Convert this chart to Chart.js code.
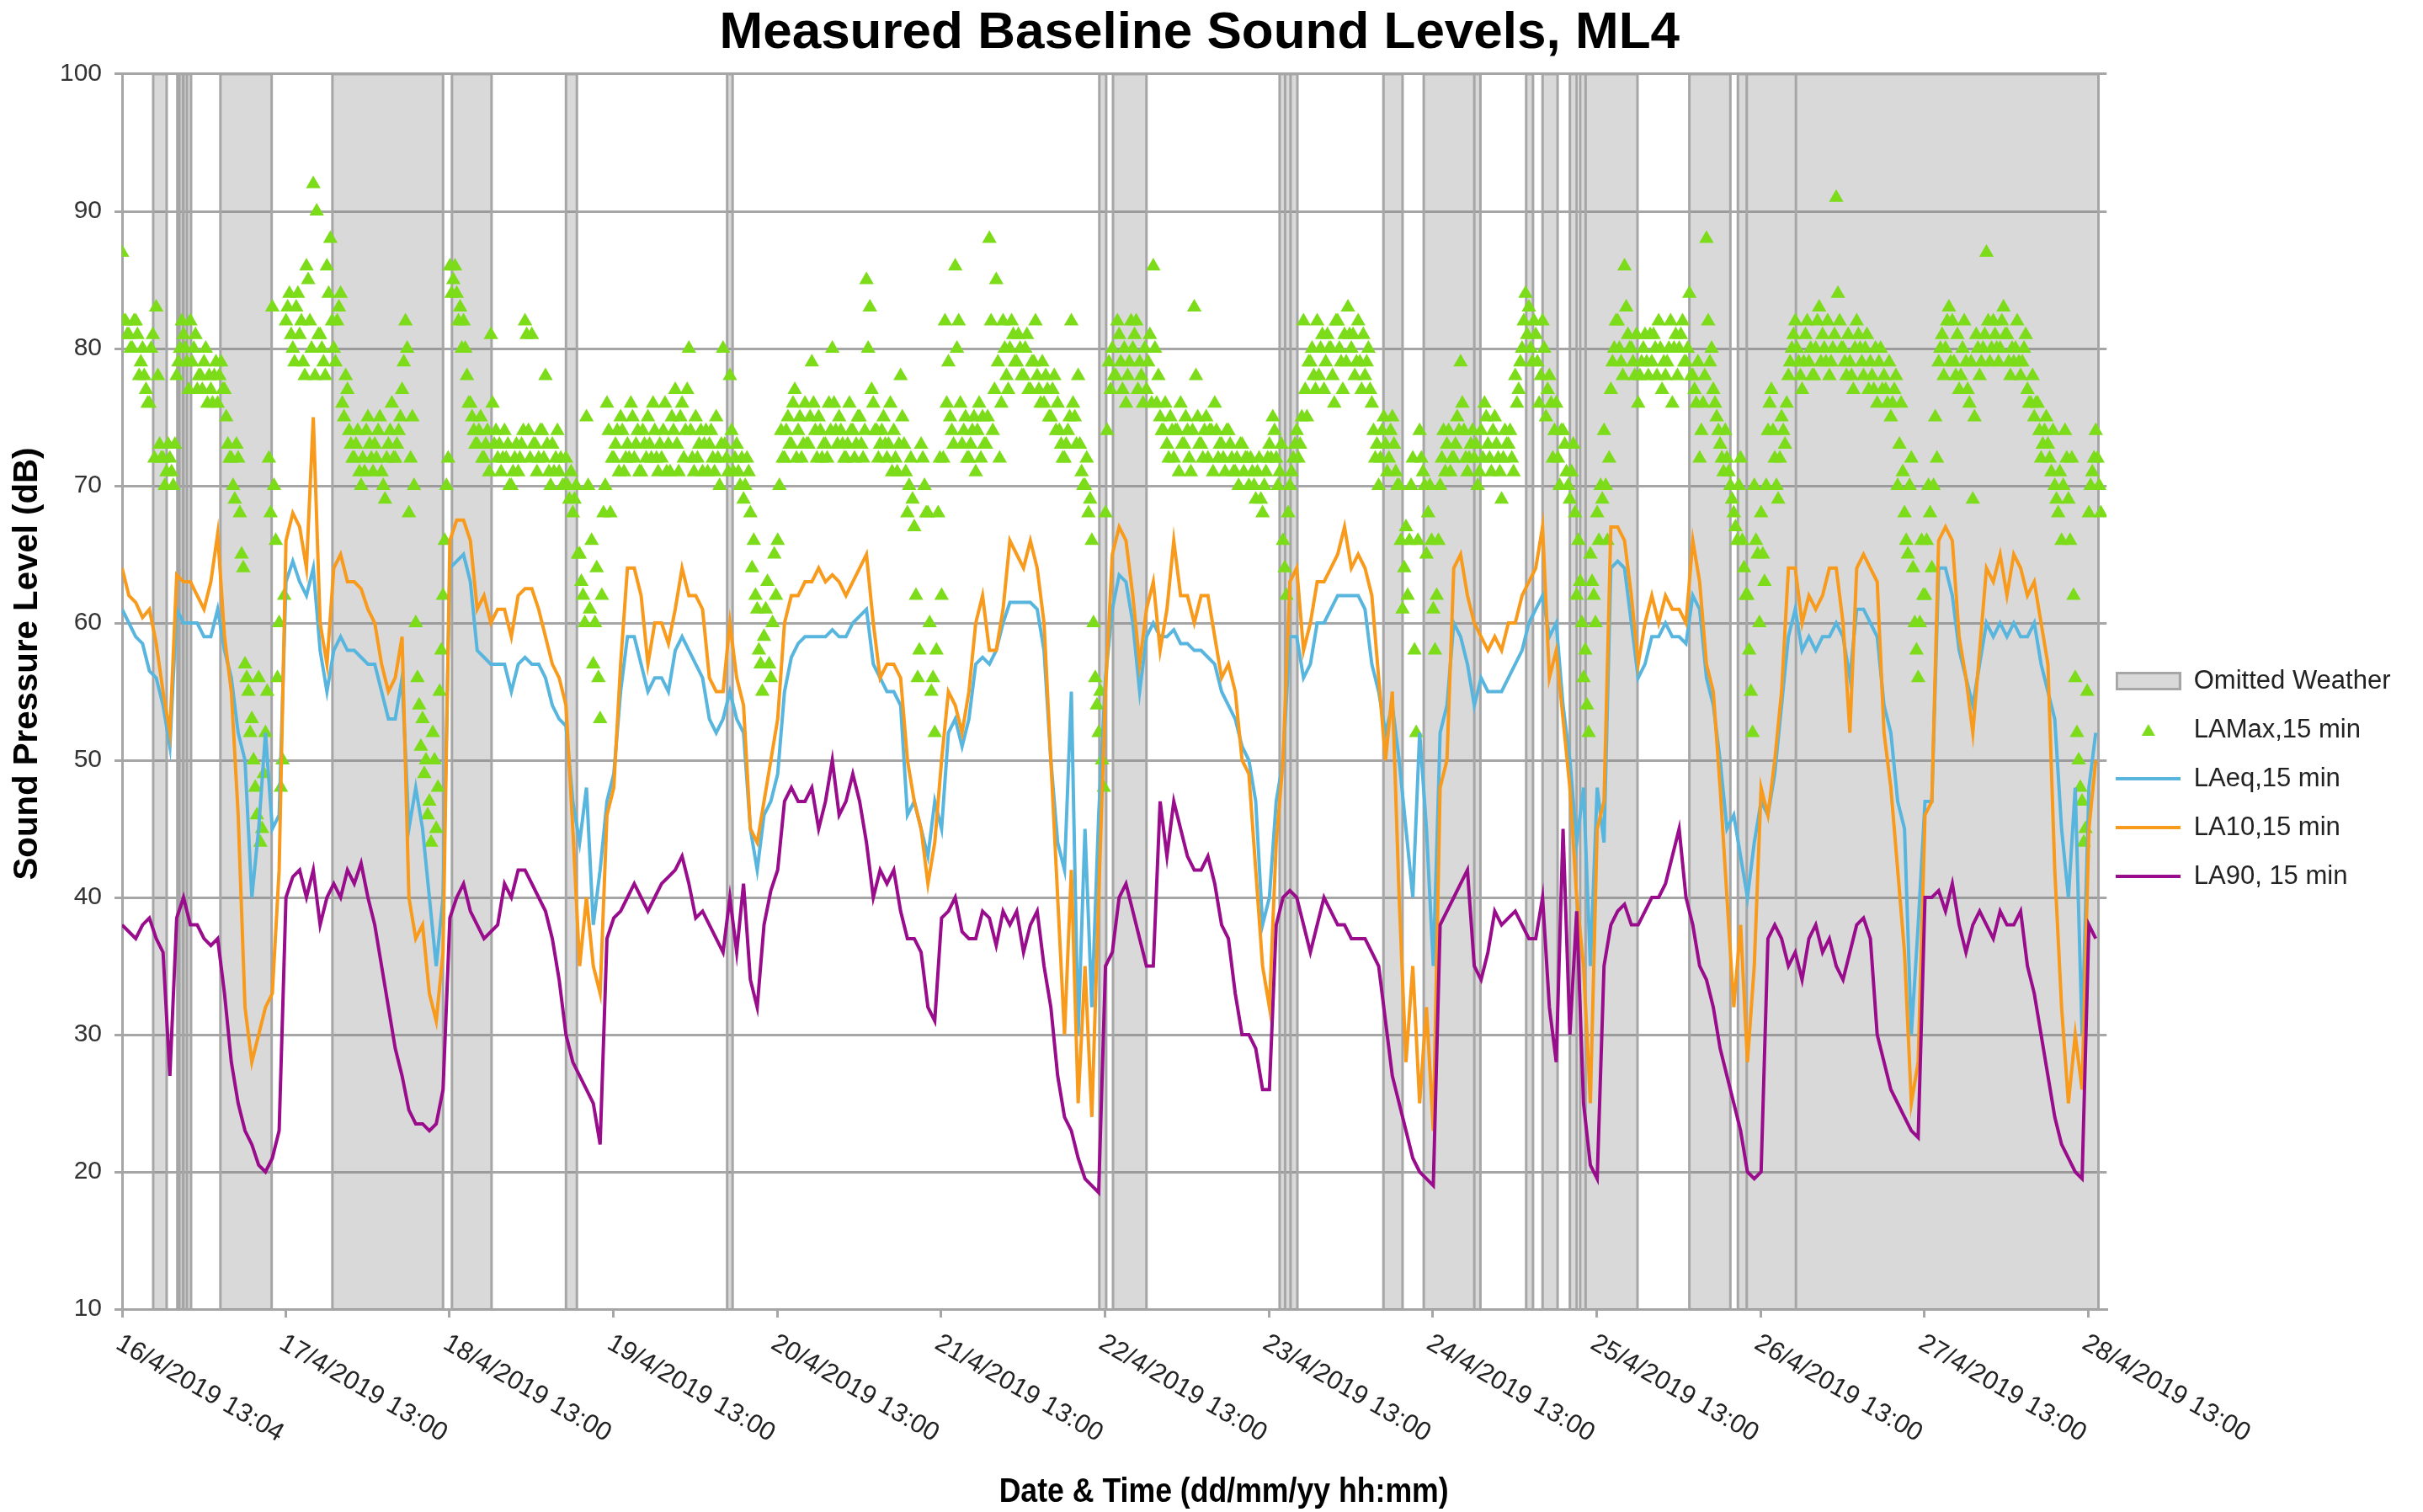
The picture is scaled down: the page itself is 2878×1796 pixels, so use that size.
<!DOCTYPE html>
<html><head><meta charset="utf-8">
<script src="https://cdn.jsdelivr.net/npm/chart.js@4/dist/chart.umd.min.js"></script>
<style>html,body{margin:0;padding:0;background:#fff;overflow:hidden}canvas{display:block}</style>
</head><body>
<canvas id="c" width="2878" height="1796"></canvas>
<script>
// ---- tick labels (x axis, hours after 16/4/2019 13:04) ----
const tickLabels = ['16/4/2019 13:04','17/4/2019 13:00','18/4/2019 13:00','19/4/2019 13:00','20/4/2019 13:00','21/4/2019 13:00','22/4/2019 13:00','23/4/2019 13:00','24/4/2019 13:00','25/4/2019 13:00','26/4/2019 13:00','27/4/2019 13:00','28/4/2019 13:00'];
const tickHours = [0,23.93,47.93,71.93,95.93,119.93,143.93,167.93,191.93,215.93,239.93,263.93,287.93];

// ---- omitted weather periods [start h, end h] ----
const omitted = [[4.56,6.53],[8.1,8.4],[8.4,8.9],[9.0,9.5],[9.5,10.1],[14.4,21.9],[30.8,47.0],[48.3,54.1],[65.0,66.6],[88.6,89.4],[143.1,144.1],[145.1,150.0],[169.5,170.3],[170.3,171.1],[171.1,172.1],[184.7,187.5],[190.6,198.0],[198.0,198.9],[205.6,206.6],[208.0,210.2],[212.0,213.0],[213.5,214.3],[214.3,221.9],[229.5,235.5],[236.6,237.9],[237.9,245.1],[245.1,289.4]];

// ---- hourly series (h = 0..289) ----
const laeq = [
61,60,59,58.5,56.5,56,54,51,61,60,
60,60,59,59,61,58,56,52,50,40,
45,52,45,46,63,64.5,63,62,64,58,
55,58,59,58,58,57.5,57,57,55,53,
53,56,45,48,45,40,35,40,64,64.5,
65,63,58,57.5,57,57,57,55,57,57.5,
57,57,56,54,53,52.5,47,44,48,38,
42,47,49,55,59,59,57,55,56,56,
55,58,59,58,57,56,53,52,53,55,
53,52,45,42,46,47,49,55,57.5,58.5,
59,59,59,59,59.5,59,59,60,60.5,61,
57,56,55,55,54,46,47,45,43,47,
45,52,53,51,53,57,57.5,57,58,60,
61.5,61.5,61.5,61.5,61,58,50,44,42,55,
30,45,32,46,56,61,63.5,63,60,55,
59,60,59,59,59.5,58.5,58.5,58,58,57.5,
57,55,54,53,51,50,47,38,40,47,
50,59,59,56,57,60,60,61,62,62,
62,62,61,57,55,52,54,50,45,40,
52,45,35,52,54,60,59,57,54,56,
55,55,55,56,57,58,60,61,62,59,
60,54,50,44,48,35,48,44,64,64.5,
64,60,56,57,59,59,60,59,59,58.5,
62,61,56,54,50,45,46,43,40,44,
47,46,49,54,59,61,58,59,58,59,
59,60,59,56,61,61,60,59,54,52,
47,45,30,38,47,47,64,64,62,58,
56,54,57,60,59,60,59,60,59,59,
60,57,55,53,45,40,48,30,48,52];

const la10 = [
64,62,61.5,60.4,61,58.5,55,52,63.5,63,
63,62,61,63,66.5,59,55,46,32,28,
30,32,33,42,66,68,67,64,75,60,
57,64,65,63,63,62.5,61,60,57,55,
56,59,40,37,38,33,31,36,66,67.5,
67.5,66,61,62,60,61,61,59,62,62.5,
62.5,61,59,57,56,54,45,35,40,35,
33,46,48,57,64,64,62,57,60,60,
58.5,61,64,62,62,61,56,55,55,60,
56,54,45,44,47,50,53,60,62,62,
63,63,64,63,63.5,63,62,63,64,65,
60,56,57,57,56,50,47,45,41,44,
50,55,54,52,55,60,62,58,58,61,
66,65,64,66,64,60,50,40,30,42,
25,35,24,40,55,65,67,66,62,57,
61,63,58,61,66,62,62,60,62,62,
59,56,57,55,50,49,42,35,32,44,
50,63,64,58,60,63,63,64,65,67,
64,65,64,62,56,50,55,40,28,35,
25,32,23,48,50,64,65,62,60,59,
58,59,58,60,60,62,63,64,67,56,
58,53,48,40,35,25,45,47,67,67,
66,62,57,60,62,60,62,61,61,60,
66,63,57,55,48,40,32,38,28,35,
48,46,50,55,64,64,60,62,61,62,
64,64,60,52,64,65,64,63,52,48,
42,36,25,28,46,47,66,67,66,59,
56,52,58,64,63,65,62,65,64,62,
63,60,57,42,32,25,30,26,45,50];

const la90 = [
38,37.5,37,38,38.5,37,36,27,38.5,40,
38,38,37,36.5,37,33,28,25,23,22,
20.5,20,21,23,40,41.5,42,40,42,38,
40,41,40,42,41,42.5,40,38,35,32,
29,27,24.5,23.5,23.5,23,23.5,26,38.5,40,
41,39,38,37,37.5,38,41,40,42,42,
41,40,39,37,34,30,28,27,26,25,
22,37,38.5,39,40,41,40,39,40,41,
41.5,42,43,41,38.5,39,38,37,36,40,
36,41,34,32,38,40.5,42,47,48,47,
47,48,45,47,50,46,47,49,47,44,
40,42,41,42,39,37,37,36,32,31,
38.5,39,40,37.5,37,37,39,38.5,36.5,39,
38,39,36,38,39,35,32,27,24,23,
21,19.5,19,18.5,35,36,40,41,39,37,
35,35,47,43,47,45,43,42,42,43,
41,38,37,33,30,30,29,26,26,38,
40,40.5,40,38,36,38,40,39,38,38,
37,37,37,36,35,31,27,25,23,21,
20,19.5,19,38,39,40,41,42,35,34,
36,39,38,38.5,39,38,37,37,40,32,
28,45,30,39,25,20.5,19.5,35,38,39,
39.5,38,38,39,40,40,41,43,45,40,
38,35,34,32,29,27,25,23,20,19.5,
20,37,38,37,35,36,34,37,38,36,
37,35,34,36,38,38.5,37,30,28,26,
25,24,23,22.5,40,40,40.5,39,41,38,
36,38,39,38,37,39,38,38,39,35,
33,30,27,24,22,21,20,19.5,38,37];

// ---- LAMax readings on the hour and half hour (h = 0, 0.5, ... 289.5) ----
const lamaxA = [
87,82,81,80,82,78,80,77,76,81,83,73,72,71,72,70,78,80,81,79,
82,80,77,78,79,76,77,78,76,79,77,73,72,69,72,65,57,55,53,48,
56,45,52,72,83,66,60,50,82,84,80,83,81,79,86,82,92,90,81,79,
86,88,80,82,84,75,77,73,72,74,70,71,75,72,73,74,71,69,73,76,
72,74,77,82,68,75,60,54,53,50,47,52,45,55,62,70,86,85,84,83,
82,78,76,74,73,75,72,74,81,73,72,71,74,73,70,72,71,73,82,74,
81,73,72,74,78,71,73,72,71,70,72,69,68,70,65,62,75,61,57,64,
53,68,76,68,72,74,75,71,73,76,72,74,71,73,75,72,74,71,72,76,
73,75,77,71,76,74,80,72,75,73,71,74,73,72,75,70,80,72,78,71,
73,70,69,72,68,66,61,57,59,63,56,65,66,74,72,75,73,77,74,72,
76,73,79,74,75,72,73,76,80,74,75,73,72,76,74,73,75,72,85,83,
76,74,73,75,72,76,74,71,78,73,68,72,67,56,73,70,68,55,52,68,
62,82,79,74,86,82,73,75,72,74,71,76,75,73,88,74,85,72,82,78,
80,81,79,80,78,81,77,79,78,76,76,77,75,78,76,73,72,74,82,75,
78,71,70,68,66,56,52,50,68,79,80,78,81,77,76,79,80,82,79,76,
77,81,86,76,75,74,73,75,72,74,76,73,74,71,83,75,73,74,72,74,
76,72,73,71,74,72,71,70,73,72,70,71,69,72,68,71,73,75,72,71,
66,62,70,72,74,73,82,75,79,78,82,80,77,81,80,76,82,79,81,83,
80,78,82,77,78,80,76,72,70,74,73,72,75,71,70,61,67,66,72,52,
74,71,65,70,61,62,70,74,73,71,72,75,79,74,71,73,72,70,74,76,
73,71,75,72,69,74,73,72,78,77,80,84,83,79,81,76,82,75,78,72,
76,70,74,71,69,73,62,63,56,54,65,62,68,70,74,66,77,80,82,79,
86,81,80,78,76,79,81,78,79,80,82,77,78,80,76,81,80,82,79,84,
78,76,72,76,88,79,77,75,73,71,72,70,68,66,72,64,62,55,70,65,
68,63,74,77,72,69,75,73,78,80,82,79,77,81,79,78,80,83,81,79,
78,80,91,82,80,78,79,77,82,80,78,81,79,77,76,80,78,76,75,77,
70,76,68,65,72,60,56,66,62,70,64,75,79,81,80,83,82,78,77,80,
79,76,69,81,78,80,87,79,82,80,80,83,81,78,79,82,78,80,77,76,
75,76,72,74,73,71,70,68,66,74,69,72,56,50,47,45,68,71,74,70];

// ---- LAMax readings at quarter past / quarter to (h = 0.25, 0.75, ... 289.75) ----
const lamaxB = [
82,81,80,82,81,79,78,76,80,72,78,72,70,73,71,73,79,82,80,77,
79,81,78,77,80,78,76,79,78,77,75,72,70,73,68,64,56,52,50,46,
44,49,55,68,70,56,48,62,83,81,79,84,82,78,85,80,78,81,80,78,
84,82,79,83,76,78,74,72,73,71,72,74,73,71,72,75,70,72,74,72,
73,75,79,80,72,70,56,51,49,46,44,50,48,58,66,72,84,86,82,80,
80,76,75,73,74,72,73,71,76,74,73,72,72,70,71,73,72,74,81,72,
73,71,74,72,73,70,71,74,72,70,70,71,69,65,63,60,70,66,60,56,
62,70,74,72,73,71,74,72,72,75,73,71,74,72,73,76,72,73,74,71,
71,74,73,75,72,77,74,71,72,74,73,71,74,71,72,73,73,71,74,72,
71,72,70,71,64,62,58,55,61,57,60,62,70,72,74,73,76,72,75,73,
73,75,76,72,74,73,72,74,76,73,74,72,73,74,72,75,73,74,80,77,
74,72,74,73,73,71,72,73,75,71,70,69,62,58,72,68,60,56,58,72,
72,76,75,73,80,76,74,72,73,75,74,72,73,75,82,77,79,76,80,77,
82,79,81,78,80,77,79,82,77,79,78,75,77,74,74,72,73,75,76,73,
73,70,72,69,60,54,55,48,74,77,78,82,79,80,78,82,81,77,78,80,
79,76,80,78,74,76,72,74,74,71,73,75,72,74,78,73,72,75,74,71,
74,73,72,74,73,71,72,73,71,72,72,70,71,69,70,72,72,74,70,73,
64,68,71,73,72,75,77,79,80,77,78,81,79,80,78,82,80,77,79,81,
81,79,79,81,79,77,74,73,72,75,71,74,73,70,66,64,62,70,58,66,
72,70,68,66,58,66,72,71,74,72,73,74,76,72,72,74,73,71,72,75,
72,74,73,71,72,73,74,71,76,79,82,81,80,82,79,78,80,77,76,74,
72,74,73,70,71,68,66,60,58,52,63,60,66,69,70,72,79,82,80,78,
83,80,79,81,78,80,79,81,81,78,80,79,79,82,80,78,81,79,80,78,
77,79,74,78,82,80,76,74,72,74,71,69,67,70,66,62,58,52,66,60,
65,70,76,74,70,72,74,76,79,81,80,78,79,82,80,78,82,79,80,82,
79,81,84,80,79,81,78,80,81,79,80,77,78,80,79,77,77,79,76,78,
73,71,66,70,64,58,60,62,66,68,70,72,80,78,82,79,79,81,78,82,
77,79,75,80,79,81,82,80,81,79,82,81,79,80,80,79,79,81,76,78,
76,74,73,75,72,74,69,71,70,72,66,62,52,48,44,55,70,72,72,68];

// ---- colours ----
const C = { band:'rgba(128,128,128,0.3)', bandEdge:'#a6a6a6', green:'#7cdc1a', blue:'#58b6de', orange:'#f89a1c', purple:'#990d8c', grid:'#a6a6a6', text:'#222' };
const FONT = '"Liberation Sans", Arial, sans-serif';

const toPts = (arr, step, offset) => arr.map((v, i) => ({ x: i * step + (offset || 0), y: v }));
const bandPts = [];
omitted.forEach(([s, e]) => { bandPts.push({x:s,y:10},{x:s,y:100},{x:e,y:100},{x:e,y:10},{x:e,y:null}); });

function icon(w, h, draw) { const c = document.createElement('canvas'); c.width = w; c.height = h; draw(c.getContext('2d')); return c; }
const icons = [
  icon(78, 22, g => { g.fillStyle = '#d9d9d9'; g.fillRect(1.5,1.5,75,19); g.strokeStyle = C.bandEdge; g.lineWidth = 3; g.strokeRect(1.5,1.5,75,19); }),
  icon(18, 16, g => { g.fillStyle = C.green; g.beginPath(); g.moveTo(9,1); g.lineTo(17,15); g.lineTo(1,15); g.closePath(); g.fill(); }),
  icon(77, 4, g => { g.fillStyle = C.blue; g.fillRect(0,0,77,4); }),
  icon(77, 4, g => { g.fillStyle = C.orange; g.fillRect(0,0,77,4); }),
  icon(77, 4, g => { g.fillStyle = C.purple; g.fillRect(0,0,77,4); })
];

function fitText(ctx, text, x, y, width, angle) {
  ctx.save();
  ctx.font = 'bold 40px ' + FONT;
  const w = ctx.measureText(text).width;
  ctx.translate(x, y); ctx.rotate(angle * Math.PI / 180); ctx.scale(width / w, 1);
  ctx.textAlign = 'center'; ctx.textBaseline = 'middle'; ctx.fillStyle = '#000';
  ctx.fillText(text, 0, 0);
  ctx.restore();
}

const axisText = {
  id: 'axisText',
  afterDraw(chart) {
    const ctx = chart.ctx, xs = chart.scales.x, area = chart.chartArea;
    ctx.save();
    ctx.fillStyle = C.text;
    ctx.font = '31px ' + FONT;
    ctx.textAlign = 'left'; ctx.textBaseline = 'top';
    xs.ticks.forEach((t, i) => {
      const px = xs.getPixelForValue(t.value);
      ctx.save(); ctx.translate(px + 3, area.bottom + 25); ctx.rotate(30 * Math.PI / 180);
      ctx.fillText(tickLabels[i], 0, 0); ctx.restore();
    });
    ctx.restore();
    fitText(ctx, 'Date & Time (dd/mm/yy hh:mm)', (area.left + area.right) / 2 + 130, 1773, 534, 0);
    fitText(ctx, 'Sound Pressure Level (dB)', 33, (area.top + area.bottom) / 2 - 33, 514, -90);
  }
};

new Chart(document.getElementById('c'), {
  type: 'line',
  data: { datasets: [
    { type:'line', label:'Omitted Weather', data: bandPts, borderColor: C.bandEdge, borderWidth: 3, backgroundColor: C.band, fill: 'start', pointRadius: 0, spanGaps: false, tension: 0, order: 5 },
    { type:'scatter', label:'LAMax,15 min', data: toPts(lamaxA, 0.5, 0).concat(toPts(lamaxB, 0.5, 0.25)), pointStyle: 'triangle', pointRadius: 10, backgroundColor: C.green, borderColor: C.green, borderWidth: 0, order: 4 },
    { type:'line', label:'LAeq,15 min', data: toPts(laeq, 1), borderColor: C.blue, borderWidth: 4, pointRadius: 0, tension: 0, fill: false, order: 3 },
    { type:'line', label:'LA10,15 min', data: toPts(la10, 1), borderColor: C.orange, borderWidth: 4, pointRadius: 0, tension: 0, fill: false, order: 2 },
    { type:'line', label:'LA90, 15 min', data: toPts(la90, 1), borderColor: C.purple, borderWidth: 4, pointRadius: 0, tension: 0, fill: false, order: 1 }
  ]},
  options: {
    responsive: false, animation: false, devicePixelRatio: 1, events: [],
    layout: { padding: { left: 0, right: 28.5, top: 0, bottom: 24 } },
    scales: {
      x: { type: 'linear', min: 0, max: 290.6,
        afterBuildTicks: s => { s.ticks = tickHours.map(v => ({ value: v })); },
        afterFit: s => { s.height = 217; },
        ticks: { display: false },
        grid: { drawOnChartArea: false, drawTicks: true, tickLength: 10, color: C.grid, lineWidth: 3 },
        border: { display: true, color: C.grid, width: 3 } },
      y: { min: 10, max: 100,
        afterFit: s => { s.width = 145; },
        ticks: { stepSize: 10, color: '#333', padding: 15, font: { size: 30, family: FONT } },
        grid: { color: C.grid, lineWidth: 3, tickLength: 9 },
        border: { display: true, color: C.grid, width: 3 } }
    },
    plugins: {
      title: { display: true, text: 'Measured Baseline Sound Levels, ML4', color: '#000',
        font: { size: 62, weight: 'bold', family: FONT }, padding: { top: 3, bottom: 10.6 } },
      tooltip: { enabled: false },
      legend: { position: 'right', align: 'center',
        title: { display: true, text: ' ', color: 'rgba(0,0,0,0)', font: { size: 10 }, padding: { top: 41, bottom: 41 } },
        labels: { usePointStyle: true, pointStyleWidth: 77, padding: 11, color: C.text,
          font: { size: 31, family: FONT, lineHeight: 47 / 31 },
          generateLabels: chart => chart.data.datasets.map((ds, i) => ({
            text: [ds.label], fillStyle: 'rgba(0,0,0,0)', strokeStyle: 'rgba(0,0,0,0)', lineWidth: 0,
            pointStyle: icons[i], hidden: false, datasetIndex: i, fontColor: C.text })) } }
    }
  },
  plugins: [axisText]
});
</script>
</body></html>
